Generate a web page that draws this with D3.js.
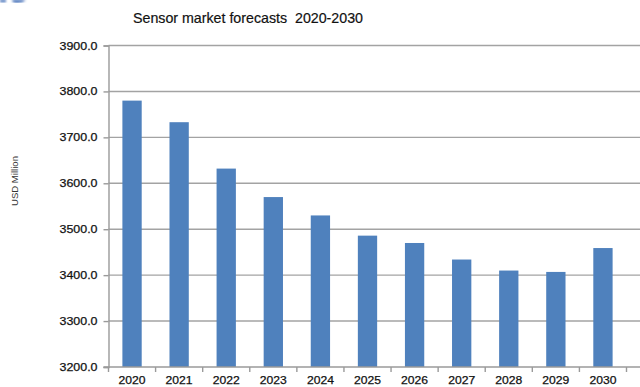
<!DOCTYPE html>
<html>
<head>
<meta charset="utf-8">
<script src="https://cdn.jsdelivr.net/npm/d3@7/dist/d3.min.js"></script>
<style>
  html, body { margin: 0; padding: 0; background: #fff; }
  svg { display: block; }
</style>
</head>
<body>
<svg id="chart" width="640" height="387"></svg>
<script>
// Sensor market size by year, USD million
const years = ["2020", "2021", "2022", "2023", "2024", "2025", "2026", "2027", "2028", "2029", "2030"];
const marketValues = [3780, 3733, 3632, 3570, 3530, 3486, 3470, 3434, 3410, 3407, 3459];
const yTicks = [3200, 3300, 3400, 3500, 3600, 3700, 3800, 3900];

(function draw() {
  const svg = d3.select("#chart");
  const fontFamily = "'Liberation Sans', Arial, sans-serif";

  const plotLeft = 108.5, plotRight = 626.5, plotTop = 45.5, plotBottom = 367;

  const x = d3.scaleBand().domain(years).range([plotLeft, plotRight]).paddingInner(0.59).paddingOuter(0.295);
  const y = d3.scaleLinear().domain([3200, 3900]).range([plotBottom, plotTop]);

  // small logo fragment in the top-left corner
  svg.append("defs").append("filter").attr("id", "soft")
    .append("feGaussianBlur").attr("stdDeviation", 0.8);
  svg.append("path")
    .attr("d", "M0,0 H6 V2 H0 Z M12,0 H26 Q22,3 16,2.5 Q12,2 12,0 Z")
    .attr("fill", "#2f5fb0")
    .attr("filter", "url(#soft)");

  // title
  svg.append("text")
    .attr("x", 248).attr("y", 23)
    .attr("text-anchor", "middle")
    .attr("font-family", fontFamily)
    .attr("font-size", 15)
    .attr("fill", "#111")
    .attr("stroke", "#111").attr("stroke-width", 0.2)
    .style("white-space", "pre")
    .attr("textLength", 230)
    .attr("lengthAdjust", "spacingAndGlyphs")
    .text("Sensor market forecasts  2020-2030");

  // horizontal gridlines
  svg.append("g")
    .selectAll("line")
    .data(yTicks.filter(t => t !== 3200))
    .join("line")
    .attr("x1", plotLeft).attr("x2", 640)
    .attr("y1", d => y(d)).attr("y2", d => y(d))
    .attr("stroke", "#a3a3a3")
    .attr("stroke-width", 1.4);

  // bars
  svg.append("g")
    .selectAll("rect")
    .data(years.map((yr, i) => ({ yr, v: marketValues[i] })))
    .join("rect")
    .attr("x", d => x(d.yr))
    .attr("width", x.bandwidth())
    .attr("y", d => y(d.v))
    .attr("height", d => y(3200) - y(d.v))
    .attr("fill", "#4f81bd");

  // y axis
  const yAxis = svg.append("g")
    .attr("transform", `translate(${plotLeft},0)`)
    .call(d3.axisLeft(y).tickValues(yTicks).tickFormat(d3.format(".1f")).tickSize(5).tickPadding(6));
  yAxis.select(".domain").attr("stroke", "#9a9a9a").attr("stroke-width", 1.4);
  yAxis.selectAll(".tick line").attr("stroke", "#9a9a9a").attr("stroke-width", 1.4);
  yAxis.selectAll(".tick text")
    .attr("font-family", fontFamily)
    .attr("font-size", 11)
    .attr("fill", "#111")
    .attr("stroke", "#111").attr("stroke-width", 0.25)
    .attr("textLength", 38)
    .attr("lengthAdjust", "spacingAndGlyphs");

  // x axis with ticks at category boundaries
  const xAxisG = svg.append("g").attr("transform", `translate(0,${plotBottom})`);
  xAxisG.append("line")
    .attr("x1", plotLeft - 5).attr("x2", 640)
    .attr("stroke", "#9a9a9a").attr("stroke-width", 1.4);
  const step = x.step();
  const boundaries = d3.range(years.length + 1).map(i => plotLeft + i * step);
  xAxisG.selectAll("line.tk")
    .data(boundaries)
    .join("line")
    .attr("class", "tk")
    .attr("x1", d => d).attr("x2", d => d)
    .attr("y1", 0).attr("y2", 5)
    .attr("stroke", "#9a9a9a").attr("stroke-width", 1.4);
  xAxisG.selectAll("text")
    .data(years)
    .join("text")
    .attr("x", d => x(d) + x.bandwidth() / 2)
    .attr("y", 17)
    .attr("text-anchor", "middle")
    .attr("font-family", fontFamily)
    .attr("font-size", 11)
    .attr("fill", "#111")
    .attr("stroke", "#111").attr("stroke-width", 0.25)
    .attr("textLength", 27)
    .attr("lengthAdjust", "spacingAndGlyphs")
    .text(d => d);

  // y axis title
  svg.append("text")
    .attr("transform", "translate(18,181) rotate(-90)")
    .attr("text-anchor", "middle")
    .attr("font-family", fontFamily)
    .attr("font-size", 9)
    .attr("fill", "#333")
    .attr("textLength", 50)
    .attr("lengthAdjust", "spacingAndGlyphs")
    .text("USD Million");
})();
</script>
</body>
</html>
